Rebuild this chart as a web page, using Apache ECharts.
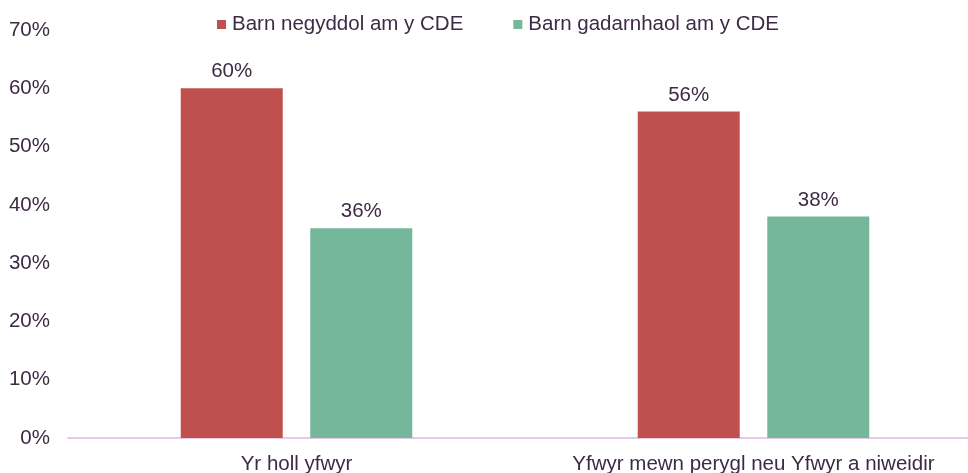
<!DOCTYPE html>
<html><head><meta charset="utf-8">
<script src="https://cdn.jsdelivr.net/npm/echarts@6/dist/echarts.min.js"></script>
<style>html,body{margin:0;padding:0;background:#fff}#c{width:968px;height:473px}</style>
</head><body><div id="c"></div>
<script>
const categories = ["Yr holl yfwyr", "Yfwyr mewn perygl neu Yfwyr a niweidir"];
const seriesNames = ["Barn negyddol am y CDE", "Barn gadarnhaol am y CDE"];
const negative = [60, 56];
const positive = [36, 38];
const yTicks = [0, 10, 20, 30, 40, 50, 60, 70];

const textColor = '#3D2B45';
const font = 'Liberation Sans, Arial, sans-serif';
const fs = 20.5;
const chart = echarts.init(document.getElementById('c'));
chart.setOption({
  animation: false,
  legend: {
    top: 9, left: 212, itemWidth: 9, itemHeight: 9, itemGap: 50,
    icon: 'rect',
    textStyle: { color: textColor, fontSize: fs, fontFamily: font, padding: [0, 0, 0, 1] },
    data: seriesNames
  },
  grid: { left: 68, top: 30, width: 914, bottom: 35, containLabel: false, outerBoundsMode: 'none' },
  xAxis: {
    type: 'category', data: categories,
    axisLine: { lineStyle: { color: '#E3CBE6', width: 2 } },
    axisTick: { show: false },
    axisLabel: { color: textColor, fontSize: fs, fontFamily: font, margin: 16, interval: 0, hideOverlap: false }
  },
  yAxis: {
    type: 'value', min: yTicks[0], max: yTicks[yTicks.length - 1], interval: 10,
    splitLine: { show: false }, axisLine: { show: false }, axisTick: { show: false },
    axisLabel: { color: textColor, fontSize: fs, fontFamily: font, margin: 18, formatter: v => v + '%' }
  },
  series: [
    { name: seriesNames[0], type: 'bar', data: negative, barWidth: 102, barGap: '27%',
      itemStyle: { color: '#C0504D' },
      label: { show: true, position: 'top', distance: 6, color: textColor, fontSize: fs, fontFamily: font, formatter: p => p.value + '%' } },
    { name: seriesNames[1], type: 'bar', data: positive, barWidth: 102,
      itemStyle: { color: '#75B79A' },
      label: { show: true, position: 'top', distance: 6, color: textColor, fontSize: fs, fontFamily: font, formatter: p => p.value + '%' } }
  ]
});
</script></body></html>
